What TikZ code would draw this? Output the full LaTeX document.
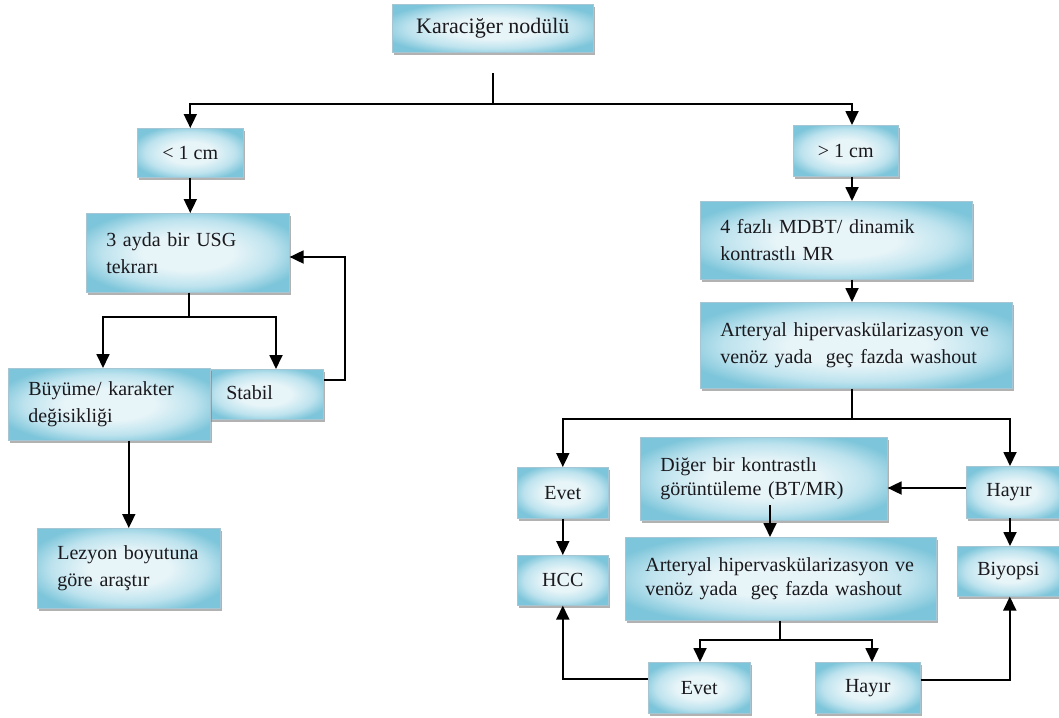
\documentclass[tikz,border=0pt]{standalone}
\usepackage{fontspec}
\setmainfont{Liberation Serif}
\usetikzlibrary{arrows.meta,shadows}
\definecolor{bxin}{RGB}{232,245,248}
\definecolor{bxmid}{RGB}{190,227,238}
\definecolor{bxout}{RGB}{125,197,218}
\definecolor{bxline}{RGB}{165,198,210}
\definecolor{txt}{RGB}{25,25,30}
\pgfdeclareradialshading{boxrad}{\pgfpoint{0bp}{0bp}}{color(0bp)=(bxin); color(11bp)=(bxin); color(21bp)=(bxmid); color(29bp)=(bxout); color(50bp)=(bxout)}
\begin{document}
\begin{tikzpicture}[x=1pt,y=-1pt,
  bx/.style={shading=boxrad, draw=bxline, line width=0.6pt,
    drop shadow={shadow xshift=2pt, shadow yshift=-3pt, fill=black!50, opacity=0.6},
    anchor=north west, inner sep=0pt, text=txt, font=\fontsize{20}{27}\selectfont},
  cbx/.style={bx, align=center},
  lbx/.style={bx, align=left, inner xsep=20pt},
  tight/.style={font=\fontsize{20}{23.5}\selectfont},
  arr/.style={draw=black, line width=1.8pt, -{Triangle[width=13pt,length=14pt]}},
  ln/.style={draw=black, line width=1.8pt}]
\useasboundingbox (0,0) rectangle (1059,717);
\fill[white] (0,0) rectangle (1059,717);

% ---- boxes ----
\node[cbx, minimum width=201pt, minimum height=48pt, font=\fontsize{22}{27}\selectfont] (top) at (392,4) {Karaciğer nodülü};
\node[cbx, minimum width=106pt, minimum height=49pt] (lt) at (137,128) {< 1 cm};
\node[lbx, text width=163pt, minimum height=79pt] (usg) at (86,213) {3 ayda bir USG\\tekrarı};
\node[lbx, text width=77pt, minimum height=50pt, text depth=14pt, text height=25pt] (stabil) at (206,369) {Stabil};
\node[lbx, text width=162pt, minimum height=72pt] (buyume) at (8,368) {\mbox{Büyüme/ karakter}\\değisikliği};
\node[lbx, text width=143pt, minimum height=80pt] (lezyon) at (37,528) {\mbox{Lezyon boyutuna}\\göre araştır};

\node[cbx, minimum width=105pt, minimum height=51pt] (gt) at (793,125) {> 1 cm};
\node[lbx, text width=232pt, minimum height=78pt] (mdbt) at (700,201) {4 fazlı MDBT/ dinamik\\kontrastlı MR};
\node[lbx, text width=272pt, minimum height=86pt] (art1) at (700,302) {\mbox{Arteryal hipervaskülarizasyon ve}\\venöz yada\ \ geç fazda\ washout};

\node[cbx, minimum width=91pt, minimum height=51pt] (evet1) at (517,467) {Evet};
\node[cbx, minimum width=91pt, minimum height=50pt] (hcc) at (517,555) {HCC};
\node[lbx, tight, text width=207pt, minimum height=83pt] (diger) at (640,437) {Diğer bir kontrastlı\\görüntüleme (BT/MR)};
\node[lbx, text width=56pt, minimum height=52pt] (hayir1) at (966,466) {Hayır};
\node[lbx, text width=65pt, minimum height=50pt] (biyopsi) at (957,546) {Biyopsi};
\node[lbx, tight, text width=271pt, minimum height=83pt] (art2) at (625,537) {\mbox{Arteryal hipervaskülarizasyon ve}\\venöz yada\ \ geç fazda washout};
\node[cbx, minimum width=102pt, minimum height=51pt] (evet2) at (648,662) {Evet};
\node[cbx, minimum width=105pt, minimum height=51pt] (hayir2) at (815,662) {Hayır};

% ---- connectors ----
\coordinate (s1) at (493,73);
\coordinate (h1) at (493,104);
\coordinate (cx) at (852,104);
\draw[ln] (s1) -- (h1);
\draw[arr] (h1) -| (lt.north);
\draw[arr] (h1) -| (cx |- gt.north);
\draw[arr] (lt.south) -- (lt.south |- usg.north);

\coordinate (h2) at (189,317);
\draw[ln] (h2 |- usg.south) -- (h2);
\draw[arr] (h2) -| (103,368);
\draw[arr] (h2) -| (276,369);
\coordinate (fb) at (345,257);
\draw[arr] ([yshift=14pt]stabil.east) -| (fb) -- (fb -| usg.east);
\draw[arr] (lezyon.north |- buyume.south) -- (lezyon.north);

\draw[arr] (cx |- gt.south) -- (cx |- mdbt.north);
\draw[arr] (cx |- mdbt.south) -- (cx |- art1.north);
\coordinate (h3) at (852,419);
\draw[ln] (cx |- art1.south) -- (h3);
\draw[arr] (h3) -| (evet1.north);
\draw[arr] (h3) -| (1010,466);
\draw[arr] (evet1.south) -- (hcc.north);
\draw[arr] (1010,518) -- (1010,546);
\draw[arr] (hayir1.west |- 0,488) -- (diger.east |- 0,488);
\coordinate (d1) at (770,505);
\draw[arr] (d1) -- (d1 |- art2.north);
\coordinate (h4) at (780,640);
\draw[ln] (h4 |- art2.south) -- (h4);
\draw[arr] (h4) -| (700,662);
\draw[arr] (h4) -| (872,662);
\draw[arr] ([yshift=9pt]evet2.west) -| (hcc.south);
\draw[arr] ([yshift=8pt]hayir2.east) -| (biyopsi.south);
\end{tikzpicture}
\end{document}
